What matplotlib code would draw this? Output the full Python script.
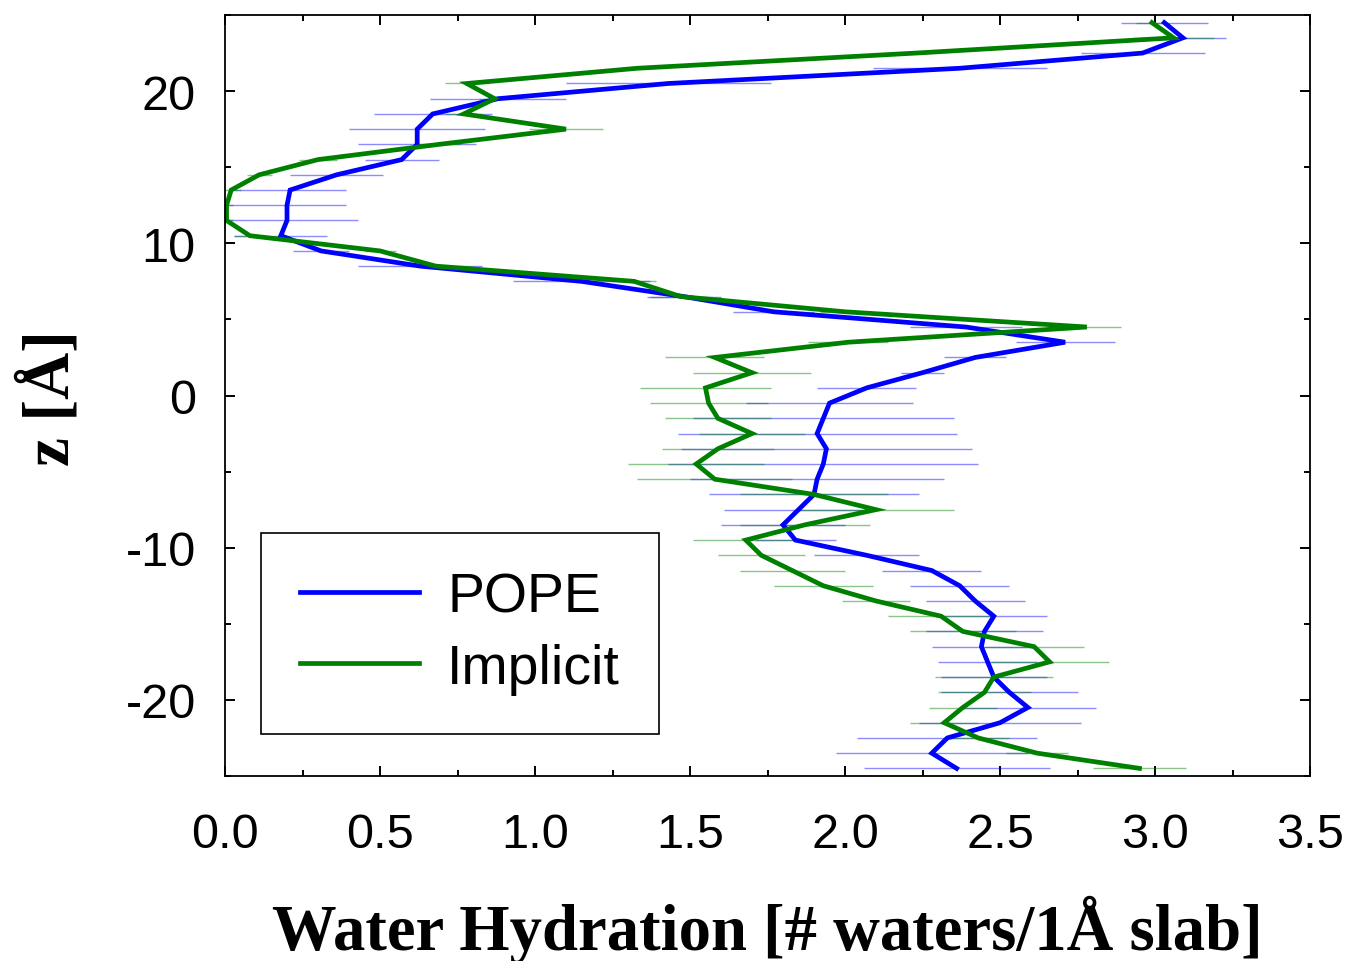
import numpy as np
import matplotlib
matplotlib.use("Agg")
import matplotlib.pyplot as plt
from matplotlib.ticker import MultipleLocator
from matplotlib.lines import Line2D

plt.rcParams['axes.unicode_minus'] = False

# slab centres along the membrane normal (Å)
z_slab = [24.5, 23.5, 22.5, 21.5, 20.5, 19.5, 18.5, 17.5, 16.5, 15.5,
          14.5, 13.5, 12.5, 11.5, 10.5, 9.5, 8.5, 7.5, 6.5, 5.5,
          4.5, 3.5, 2.5, 1.5, 0.5, -0.5, -1.5, -2.5, -3.5, -4.5,
          -5.5, -6.5, -7.5, -8.5, -9.5, -10.5, -11.5, -12.5, -13.5, -14.5,
          -15.5, -16.5, -17.5, -18.5, -19.5, -20.5, -21.5, -22.5, -23.5, -24.5]

# POPE bilayer
pope = [3.03, 3.09, 2.96, 2.37, 1.43, 0.88, 0.67, 0.62, 0.62, 0.57,
        0.36, 0.21, 0.20, 0.20, 0.18, 0.31, 0.63, 1.15, 1.48, 1.77,
        2.39, 2.71, 2.42, 2.25, 2.07, 1.95, 1.93, 1.91, 1.94, 1.93,
        1.91, 1.90, 1.85, 1.80, 1.84, 2.07, 2.28, 2.37, 2.42, 2.48,
        2.45, 2.44, 2.46, 2.48, 2.53, 2.59, 2.50, 2.33, 2.28, 2.36]
pope_err = [0.14, 0.14, 0.20, 0.28, 0.33, 0.22, 0.19, 0.22, 0.19, 0.12,
            0.15, 0.18, 0.19, 0.23, 0.15, 0.09, 0.20, 0.22, 0.12, 0.13,
            0.18, 0.16, 0.10, 0.07, 0.16, 0.27, 0.42, 0.45, 0.47, 0.50,
            0.41, 0.34, 0.24, 0.20, 0.13, 0.17, 0.16, 0.16, 0.16, 0.17,
            0.19, 0.16, 0.16, 0.17, 0.22, 0.22, 0.26, 0.29, 0.31, 0.30]

# implicit membrane
implicit = [2.99, 3.06, 2.23, 1.33, 0.78, 0.87, 0.77, 1.10, 0.69, 0.30,
            0.11, 0.02, 0.005, 0.005, 0.08, 0.50, 0.68, 1.32, 1.47, 2.00,
            2.78, 2.01, 1.58, 1.70, 1.55, 1.56, 1.59, 1.70, 1.59, 1.52,
            1.58, 1.90, 2.10, 1.87, 1.68, 1.73, 1.83, 1.93, 2.10, 2.31,
            2.38, 2.61, 2.66, 2.48, 2.45, 2.38, 2.32, 2.43, 2.62, 2.95]
implicit_err = [0.05, 0.13, 0.05, 0.05, 0.07, 0.05, 0.06, 0.12, 0.07, 0.06,
                0.04, 0.03, 0.02, 0.02, 0.05, 0.05, 0.05, 0.07, 0.10, 0.08,
                0.11, 0.13, 0.16, 0.19, 0.21, 0.19, 0.17, 0.17, 0.18, 0.22,
                0.25, 0.24, 0.25, 0.21, 0.17, 0.14, 0.17, 0.16, 0.11, 0.17,
                0.17, 0.16, 0.19, 0.19, 0.15, 0.11, 0.11, 0.10, 0.10, 0.15]

blue = '#0000ff'
green = '#008000'
lw = 3.4

fig = plt.figure(figsize=(13.5, 9.62), dpi=100)
ax = fig.add_axes([225/1350, 1-777/962, 1085/1350, 761/962])

# error bars first, thin and faded
ax.errorbar(pope, z_slab, xerr=pope_err, fmt='none',
            ecolor=(0, 0, 1, 0.45), elinewidth=1.0, capsize=0)
ax.errorbar(implicit, z_slab, xerr=implicit_err, fmt='none',
            ecolor=(0, 0.5, 0, 0.45), elinewidth=1.0, capsize=0)

ax.plot(pope, z_slab, color=blue, lw=lw, solid_joinstyle='miter')
ax.plot(implicit, z_slab, color=green, lw=lw, solid_joinstyle='miter')

ax.set_xlim(0, 3.5)
ax.set_ylim(-25, 25)
ax.xaxis.set_major_locator(MultipleLocator(0.5))
ax.xaxis.set_minor_locator(MultipleLocator(0.25))
ax.yaxis.set_major_locator(MultipleLocator(10))
ax.yaxis.set_minor_locator(MultipleLocator(5))
ax.xaxis.set_major_formatter(matplotlib.ticker.FormatStrFormatter('%.1f'))

ax.tick_params(which='both', direction='in', top=True, right=True, width=1.4)
ax.tick_params(which='major', length=7.5)
ax.tick_params(which='minor', length=4.5)
ax.tick_params(axis='x', which='major', pad=26)
ax.tick_params(axis='y', which='major', pad=21)
for lab in ax.get_xticklabels() + ax.get_yticklabels():
    lab.set_fontfamily('Liberation Sans')
    lab.set_fontsize(35)
for sp in ax.spines.values():
    sp.set_linewidth(1.3)

fig.text(767/1350, 1-950/962, 'Water Hydration [# waters/1Å slab]',
         ha='center', va='baseline', family='Liberation Serif',
         weight='bold', fontsize=46.5)
fig.text(51/1350, 1-398/962, 'z [Å]', ha='center', va='center',
         rotation=90, family='Liberation Serif', weight='bold', fontsize=47)

handles = [Line2D([], [], color=blue, lw=lw),
           Line2D([], [], color=green, lw=lw)]
leg = ax.legend(handles, ['POPE', 'Implicit'], loc='upper left',
                bbox_to_anchor=((261-225)/1085, (777-534)/761),
                borderaxespad=0, fancybox=False, framealpha=1,
                edgecolor='black', handlelength=2.15, handletextpad=0.5,
                borderpad=0.7, labelspacing=0.34,
                prop={'family': 'Liberation Sans', 'size': 40})
leg.get_frame().set_linewidth(1.2)

fig.savefig('out.png', dpi=100)
